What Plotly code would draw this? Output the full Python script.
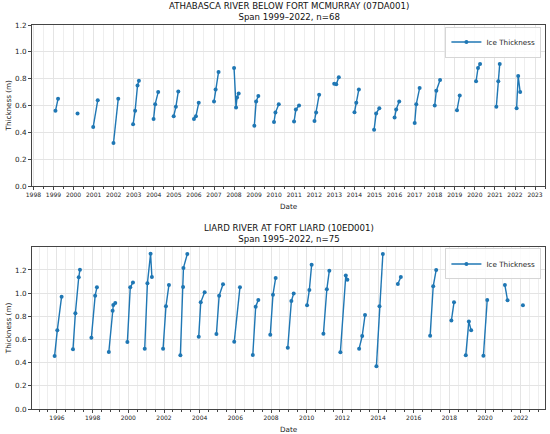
import pandas as pd
import plotly.graph_objects as go
from plotly.subplots import make_subplots

# 07DA001 - Athabasca River below Fort McMurray
athabasca_dates = [
    "1999-02-06", "1999-03-25",
    "2000-03-14",
    "2000-12-24", "2001-03-17",
    "2001-12-28", "2002-03-25",
    "2002-12-20", "2003-01-26", "2003-03-11", "2003-04-05",
    "2003-12-28", "2004-01-26", "2004-03-21",
    "2004-12-28", "2005-02-06", "2005-03-22",
    "2006-01-01", "2006-02-06", "2006-03-29",
    "2007-01-01", "2007-01-30", "2007-03-25",
    "2008-01-01", "2008-02-06", "2008-02-24", "2008-03-25",
    "2009-01-04", "2009-02-06", "2009-03-18",
    "2009-12-28", "2010-01-23", "2010-03-25",
    "2010-12-28", "2011-01-30", "2011-03-29",
    "2012-01-04", "2012-02-03", "2012-03-29",
    "2012-12-28", "2013-02-03", "2013-03-22",
    "2014-01-01", "2014-02-03", "2014-03-22",
    "2014-12-24", "2015-01-30", "2015-03-29",
    "2016-01-01", "2016-01-30", "2016-03-25",
    "2017-01-01", "2017-01-30", "2017-04-01",
    "2018-01-01", "2018-01-30", "2018-04-08",
    "2019-02-10", "2019-04-01",
    "2020-01-23", "2020-02-28", "2020-04-05",
    "2021-01-26", "2021-03-03", "2021-03-29",
    "2022-01-30", "2022-02-28", "2022-04-05",
]
athabasca_thickness = [
    0.56, 0.65,
    0.54,
    0.44, 0.64,
    0.32, 0.65,
    0.46, 0.56, 0.75, 0.785,
    0.50, 0.61, 0.70,
    0.52, 0.59, 0.705,
    0.50, 0.52, 0.62,
    0.63, 0.72, 0.85,
    0.88, 0.585, 0.66, 0.69,
    0.45, 0.63, 0.67,
    0.477, 0.547, 0.61,
    0.48, 0.57, 0.60,
    0.485, 0.547, 0.68,
    0.763, 0.758, 0.81,
    0.55, 0.62, 0.72,
    0.42, 0.54, 0.58,
    0.51, 0.57, 0.63,
    0.47, 0.61, 0.73,
    0.60, 0.71, 0.79,
    0.565, 0.675,
    0.78, 0.88, 0.91,
    0.59, 0.78, 0.91,
    0.58, 0.82, 0.70,
]

# 10ED001 - Liard River at Fort Liard
liard_dates = [
    "1995-11-14", "1996-01-08", "1996-04-05",
    "1996-11-24", "1997-01-12", "1997-03-22", "1997-04-16",
    "1997-12-06", "1998-02-21", "1998-03-29",
    "1998-11-28", "1999-02-14", "1999-02-28", "1999-04-09",
    "1999-12-13", "2000-02-10", "2000-04-05",
    "2000-12-02", "2001-01-26", "2001-04-01", "2001-04-28",
    "2001-12-13", "2002-02-10", "2002-04-12",
    "2002-12-02", "2003-01-26", "2003-02-03", "2003-04-23",
    "2003-12-13", "2004-01-23", "2004-04-12",
    "2004-12-09", "2005-02-03", "2005-04-23",
    "2005-12-09", "2006-04-05",
    "2006-12-24", "2007-02-21", "2007-04-16",
    "2007-12-17", "2008-02-10", "2008-04-05",
    "2008-12-09", "2009-02-21", "2009-04-09",
    "2010-01-08", "2010-02-24", "2010-04-12",
    "2010-12-09", "2011-02-17", "2011-04-09",
    "2011-11-21", "2012-03-11", "2012-04-12",
    "2012-12-09", "2013-02-10", "2013-04-09",
    "2013-11-28", "2014-01-30", "2014-04-09",
    "2015-02-10", "2015-04-12",
    "2016-12-02", "2017-02-03", "2017-04-05",
    "2018-02-10", "2018-04-05",
    "2018-12-02", "2019-02-03", "2019-03-22",
    "2019-11-28", "2020-02-14",
    "2021-02-10", "2021-04-05",
    "2022-02-14",
]
liard_thickness = [
    0.458, 0.679, 0.97,
    0.515, 0.826, 1.137, 1.203,
    0.616, 0.978, 1.05,
    0.492, 0.849, 0.898, 0.915,
    0.578, 1.05, 1.093,
    0.52, 1.085, 1.341, 1.14,
    0.52, 0.886, 1.071,
    0.463, 1.053, 1.218, 1.338,
    0.624, 0.921, 1.007,
    0.648, 0.978, 1.076,
    0.581, 1.05,
    0.466, 0.883, 0.941,
    0.642, 0.987, 1.131,
    0.529, 0.933, 0.996,
    0.895, 1.028, 1.246,
    0.649, 1.033, 1.194,
    0.489, 1.152, 1.115,
    0.521, 0.630, 0.811,
    0.368, 0.886, 1.338,
    1.079, 1.14,
    0.633, 1.059, 1.20,
    0.763, 0.921,
    0.463, 0.756, 0.679,
    0.46, 0.941,
    1.07, 0.938,
    0.895,
]


def with_gaps(dates, values):
    # break the line between winter seasons (Jul-Jun)
    d = pd.to_datetime(pd.Series(dates))
    season = (d.dt.year + (d.dt.month >= 7).astype(int)).tolist()
    xs, ys = [], []
    prev = None
    for dt, v, s in zip(dates, values, season):
        if prev is not None and s != prev:
            xs.append(None)
            ys.append(None)
        xs.append(dt)
        ys.append(v)
        prev = s
    return xs, ys


FONT = "DejaVu Sans"
BLUE = "#1f77b4"

fig = make_subplots(rows=2, cols=1)

x1, y1 = with_gaps(athabasca_dates, athabasca_thickness)
x2, y2 = with_gaps(liard_dates, liard_thickness)

fig.add_trace(go.Scatter(x=x1, y=y1, mode="lines+markers", name="Ice Thickness",
                         line=dict(color=BLUE, width=1.4), marker=dict(size=4, color=BLUE),
                         showlegend=True, legend="legend"), row=1, col=1)
fig.add_trace(go.Scatter(x=x2, y=y2, mode="lines+markers", name="Ice Thickness",
                         line=dict(color=BLUE, width=1.4), marker=dict(size=4, color=BLUE),
                         showlegend=True, legend="legend2"), row=2, col=1)

axis_common = dict(
    showline=True, linecolor="#444", linewidth=1, mirror=True,
    ticks="outside", ticklen=3, tickwidth=1, tickcolor="#444",
    showgrid=True, gridcolor="#e4e4e4", gridwidth=1, zeroline=False,
)

top_dom = [223 / 384, 1.0]
bot_dom = [0.0, 161.6 / 384]

fig.update_xaxes(**axis_common)
fig.update_yaxes(**axis_common)

legend_style = dict(xanchor="right", yanchor="top", itemwidth=30, visible=True,
                    bgcolor="rgba(255,255,255,0.85)", bordercolor="#d6d6d6", borderwidth=1,
                    font=dict(family=FONT, size=7.2, color="#222"))

fig.update_layout(
    showlegend=True,
    xaxis=dict(type="date", domain=[0, 1], range=["1997-12-06", "2023-07-01"],
               tick0="1998-01-01", dtick="M12", tickformat="%Y",
               tickfont=dict(family=FONT, size=6, color="#222"),
               minor=dict(dtick="M6", tick0="1998-01-01", ticks="outside", ticklen=2,
                          tickcolor="#444", showgrid=True, gridcolor="#eeeeee")),
    yaxis=dict(domain=top_dom, range=[0, 1.2], dtick=0.2, tickformat=".1f",
               tickfont=dict(family=FONT, size=7.2, color="#222")),
    xaxis2=dict(type="date", domain=[0, 1], range=["1994-08-08", "2023-05-12"],
                tick0="1996-01-01", dtick="M24", tickformat="%Y",
                tickfont=dict(family=FONT, size=6, color="#222"),
                minor=dict(dtick="M6", tick0="1996-01-01", ticks="outside", ticklen=2,
                           tickcolor="#444", showgrid=True, gridcolor="#eeeeee")),
    yaxis2=dict(domain=bot_dom, range=[0, 1.395], dtick=0.2, tickformat=".1f",
                tickfont=dict(family=FONT, size=7.2, color="#222")),
    legend=dict(x=0.993, y=0.996, **legend_style),
    legend2=dict(x=0.993, y=0.418, **legend_style),
    width=550, height=434,
    margin=dict(l=32, r=5, t=25, b=25),
    plot_bgcolor="white", paper_bgcolor="white",
    font=dict(family=FONT, color="#222"),
)

titles = [
    ("ATHABASCA RIVER BELOW FORT MCMURRAY (07DA001)<br>Span 1999–2022, n=68", top_dom),
    ("LIARD RIVER AT FORT LIARD (10ED001)<br>Span 1995–2022, n=75", bot_dom),
]
for text, dom in titles:
    fig.add_annotation(text=text, xref="paper", yref="paper", x=0.5, y=dom[1],
                       xanchor="center", yanchor="bottom", yshift=1, showarrow=False,
                       align="center", font=dict(family=FONT, size=8.6, color="#111"))
    fig.add_annotation(text="Date", xref="paper", yref="paper", x=0.5, y=dom[0],
                       xanchor="center", yanchor="top", yshift=-14, showarrow=False,
                       font=dict(family=FONT, size=7.2, color="#222"))
    fig.add_annotation(text="Thickness (m)", xref="paper", yref="paper", x=0,
                       y=(dom[0] + dom[1]) / 2, xanchor="center", yanchor="middle",
                       xshift=-24, textangle=-90, showarrow=False,
                       font=dict(family=FONT, size=7.2, color="#222"))

# page body margin would shift the 550x434 figure off the window
fig.write_html("out.html", config={"displayModeBar": False},
               post_script="document.body.style.margin='0';")
